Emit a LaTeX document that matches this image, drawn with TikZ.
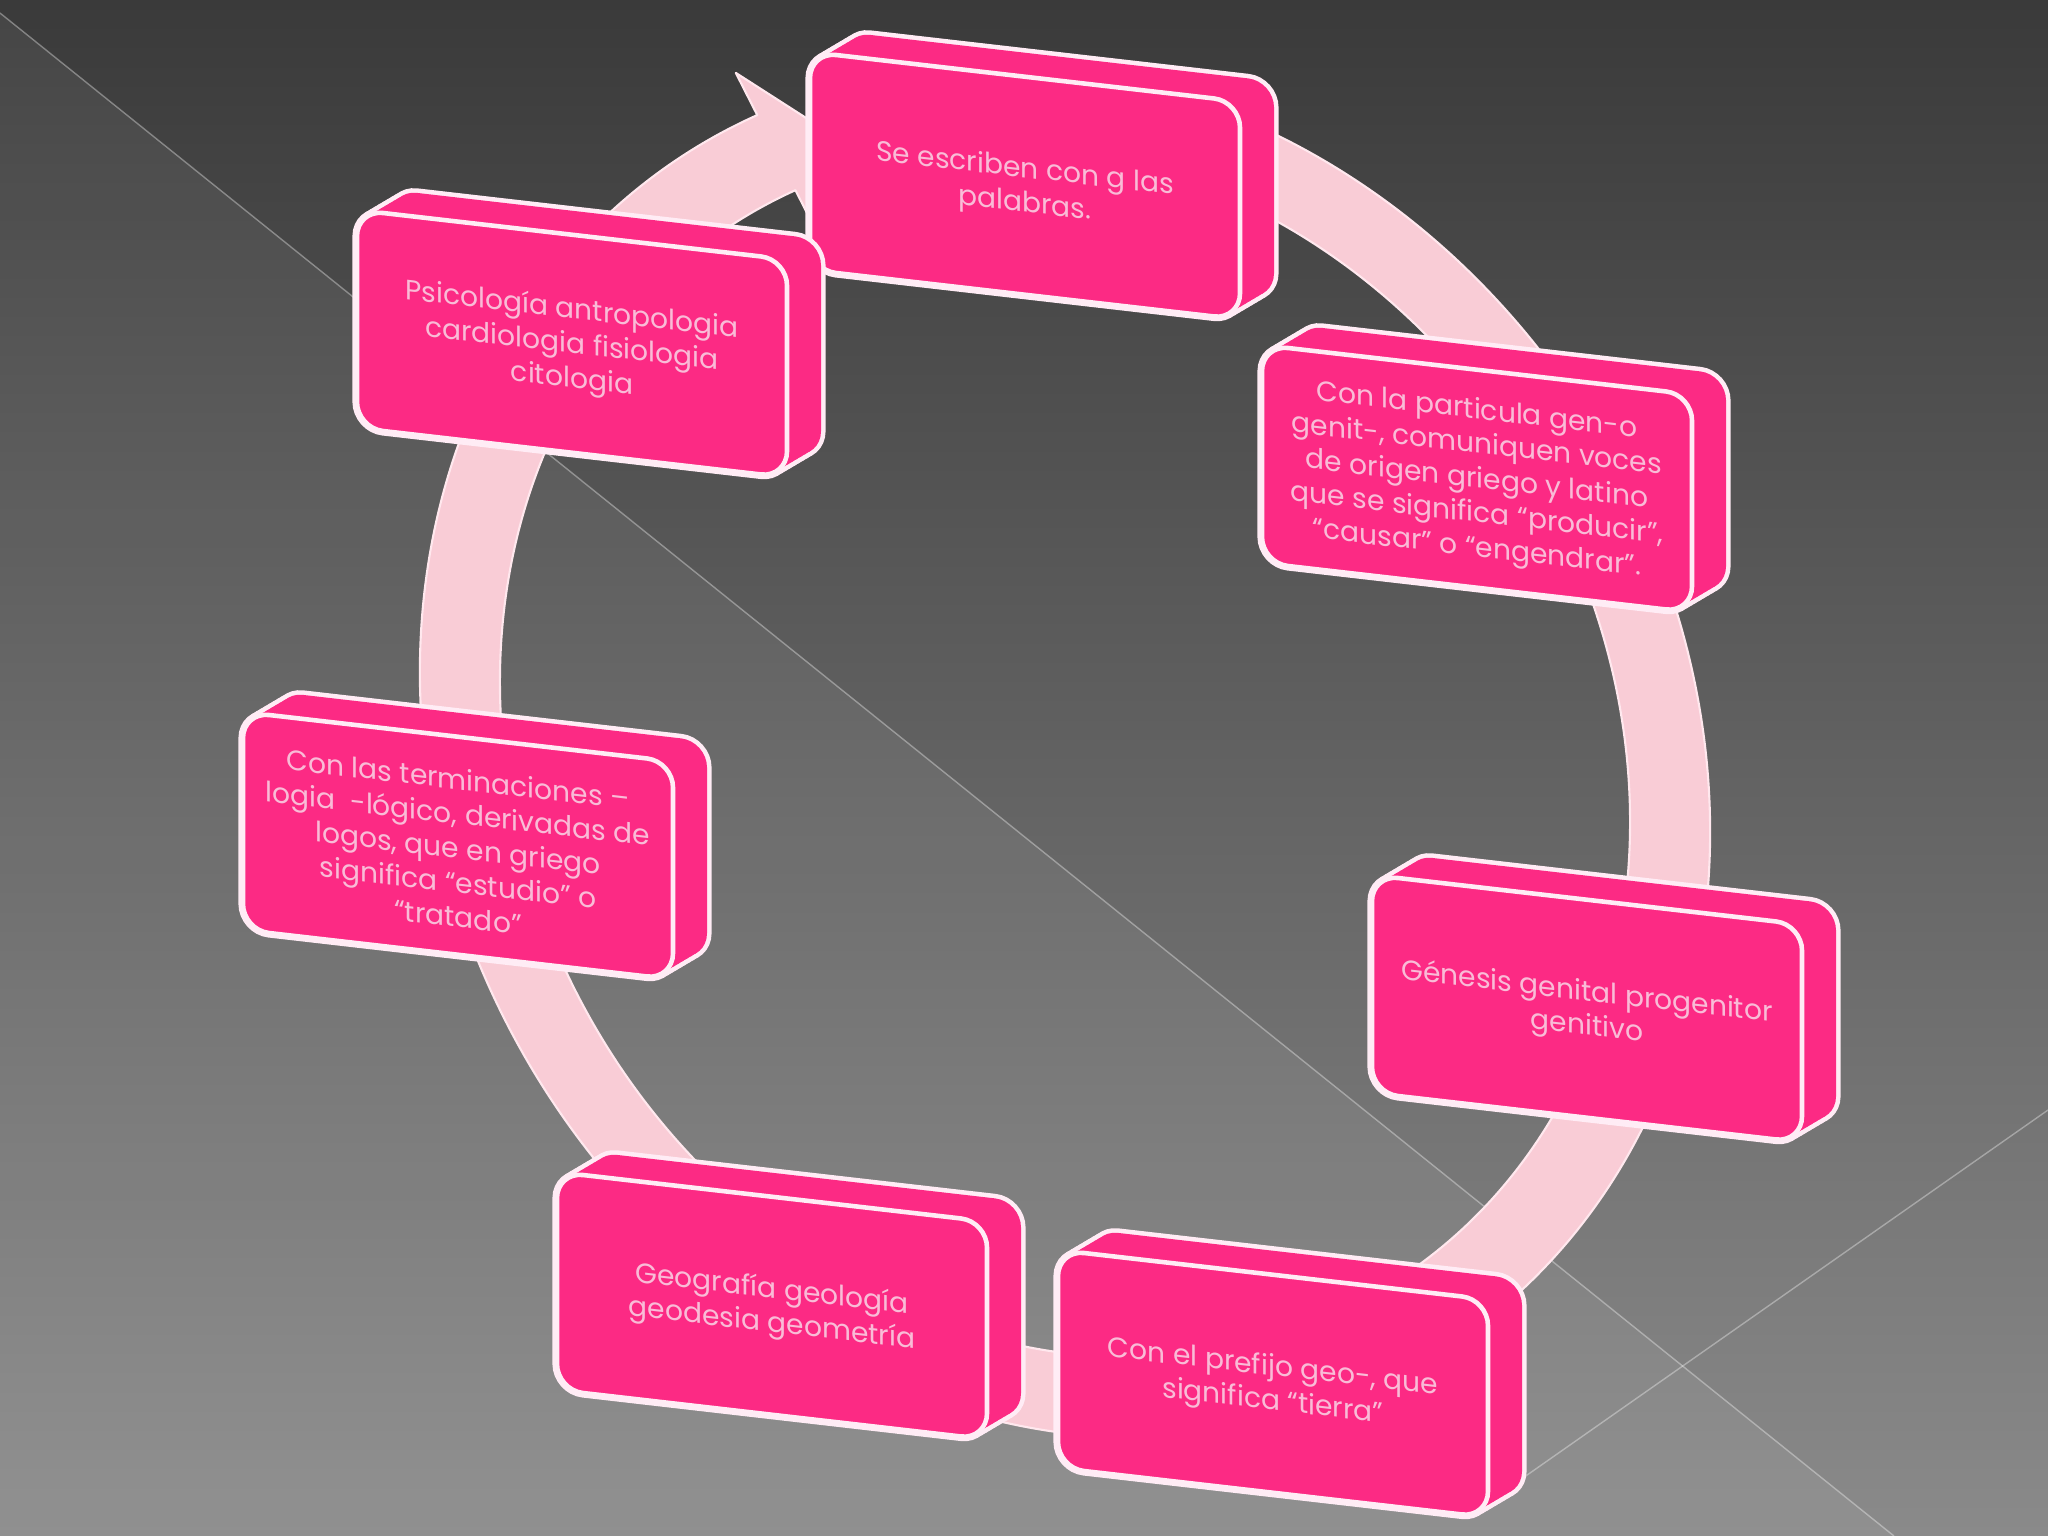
\documentclass[tikz,border=0pt]{standalone}
\usepackage{fontspec}
\setmainfont{Poppins}
\definecolor{boxc}{RGB}{252,42,132}
\definecolor{edgec}{RGB}{255,236,245}
\definecolor{ringc}{RGB}{249,204,214}
\definecolor{ringedge}{RGB}{255,232,238}
\definecolor{txtc}{RGB}{249,188,215}
\definecolor{bgtop}{RGB}{58,58,58}
\definecolor{bgbot}{RGB}{138,138,138}
\tikzset{
  boxtext/.style={text=txtc, align=center, inner sep=0pt, font=\fontsize{8.0}{9.8}\selectfont},
  facestyle/.style={fill=boxc, draw=edgec, line width=1.3pt, rounded corners=0.26cm},
  sweepline/.style={draw=edgec, line width=2.6pt, rounded corners=0.26cm},
  sweepfill/.style={fill=boxc, rounded corners=0.26cm},
  ringstyle/.style={fill=ringc, draw=ringedge, line width=0.6pt, line join=round},
  bgline/.style={draw=white, opacity=0.35, line width=0.4pt}
}
\newcommand{\pinkbox}[4]{%
  \begin{scope}[shift={(#2,#3)}, yslant=-0.115]
    \foreach \d in {0,0.125,...,1}{\path[sweepline] (\d*34,-\d*24) rectangle ++(430,218);}
    \foreach \d in {0,0.125,...,1}{\path[sweepfill] (\d*34,-\d*24) rectangle ++(430,218);}
    \path[facestyle] (0,0) rectangle (430,218);
    \node[boxtext, transform shape] (#1) at (215,111) {#4};
  \end{scope}}
\begin{document}
\begin{tikzpicture}[x=0.01cm, y=-0.01cm]
\useasboundingbox (0,0) rectangle (2048,1536);
% background
\shade[top color=bgtop, bottom color=bgbot] (0,0) rectangle (2048,1536);
\fill[white, opacity=0.06] (0,13) -- (1894,1536) -- (0,1536) -- cycle;
\path[bgline] (0,13) -- (1894,1536);
\path[bgline] (2048,1110) -- (1520,1480);
% ring with arrow
\begin{scope}[shift={(1065,752)}, yslant=-0.125]
  \path[ringstyle] (280:645 and 681)
    arc[start angle=280, end angle=601.5, x radius=645, y radius=681]
    -- (601.5:690 and 726) -- (607:605 and 641) -- (601.5:520 and 556)
    -- (601.5:565 and 601)
    arc[start angle=601.5, end angle=280, x radius=565, y radius=601] -- cycle;
\end{scope}
% boxes
\pinkbox{b1}{810}{52}{Se escriben con g las\\palabras.}
\pinkbox{b2}{1262}{345}{Con la particula gen-o\\genit-, comuniquen voces\\de origen griego y latino\\que se significa “producir”,\\“causar” o “engendrar”.}
\pinkbox{b3}{1372}{875}{Génesis genital progenitor\\genitivo}
\pinkbox{b4}{1058}{1250}{Con el prefijo geo-, que\\significa “tierra”}
\pinkbox{b5}{557}{1172}{Geografía geología\\geodesia geometría}
\pinkbox{b6}{243}{712}{Con las terminaciones –\\logia~ -lógico, derivadas de\\logos, que en griego\\significa “estudio” o\\“tratado”}
\pinkbox{b7}{357}{210}{Psicología antropologia\\cardiologia fisiologia\\citologia}
\end{tikzpicture}
\end{document}
